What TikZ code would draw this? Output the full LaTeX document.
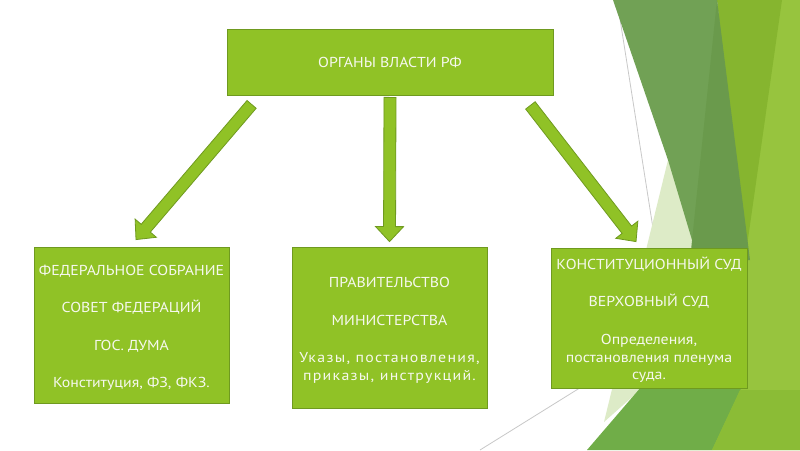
\documentclass[tikz,border=0pt]{standalone}
\usepackage{fontspec}
\setmainfont{PT Sans}[FakeStretch=1.1]
\usetikzlibrary{calc}
\definecolor{accent}{HTML}{90C226}
\definecolor{accentdark}{HTML}{6F9A1F}
\definecolor{txt}{HTML}{F6F8EE}
\definecolor{bglight}{HTML}{97C43E}
\definecolor{bgyellow}{HTML}{86B52F}
\definecolor{bgwedge}{HTML}{71A155}
\definecolor{bgwedgedark}{HTML}{6A9A4C}
\definecolor{bgpale}{HTML}{DDEBC7}
\definecolor{bgmid}{HTML}{70AD48}
\definecolor{bgyb}{HTML}{8BBC36}
\definecolor{bgline}{HTML}{C8C8C8}
\newcommand\bararrow[2]{%
  \path let \p1=(#1), \p2=(#2), \n1={atan2(\y2-\y1,\x2-\x1)}, \n2={veclen(\x2-\x1,\y2-\y1)} in \pgfextra{\xdef\barang{\n1}\xdef\barlen{\n2}};
  \begin{scope}[shift={(#1)}, rotate=\barang, x=1pt, y=1pt]
    \draw[blockarrowstyle] (0,-4.5) -- ({\barlen-11.25},-4.5) -- ({\barlen-11.25},-10.5) -- (\barlen,0) -- ({\barlen-11.25},10.5) -- ({\barlen-11.25},4.5) -- (0,4.5) -- cycle;
  \end{scope}}
\newcommand\wide[1]{{\addfontfeatures{LetterSpace=9}#1}}
\newcommand\topstrut{\rule{0pt}{12pt}}
\begin{document}
\begin{tikzpicture}[x=0.75pt,y=-0.75pt,
  box/.style={draw=accentdark, line width=0.6pt, fill=accent, text=txt, align=center, inner sep=0pt, font=\fontsize{10.8}{13.2}\selectfont},
  blockarrowstyle/.style={draw=accentdark, line width=0.6pt, fill=accent, line join=miter}]
\useasboundingbox (0,0) rectangle (800,450);
\begin{scope}
\clip (0,0) rectangle (800,450);
\fill[white] (0,0) rectangle (800,450);
\draw[bgline, line width=0.6pt] (617,0) -- (688,450);
\draw[bgline, line width=0.6pt] (480,450) -- (800,251);
\fill[bglight] (745,0) -- (800,0) -- (800,450) -- (660,450) -- cycle;
\fill[bgyellow] (717,0) -- (782,0) -- (745,260) -- cycle;
\fill[bgpale] (668,160) -- (698,250) -- (640,390) -- (604,422) -- cycle;
\fill[bgwedge] (613,0) -- (717,0) -- (748,260) -- (730,380) -- (695,250) -- (668,160) -- cycle;
\fill[bgwedgedark] (717,0) -- (750,260) -- (690,260) -- cycle;
\fill[bgmid] (587,450) -- (712,450) -- (745,380) -- (690,330) -- cycle;
\fill[bgyb] (712,450) -- (800,450) -- (800,390) -- (740,390) -- cycle;
\end{scope}
\node[box, minimum width=244.5pt, minimum height=49.5pt] (top) at (390,62) {ОРГАНЫ ВЛАСТИ РФ};
\node[box, minimum width=146.25pt, minimum height=117pt] (b1) at (131.5,325) {\topstrut ФЕДЕРАЛЬНОЕ СОБРАНИЕ\\[15pt]СОВЕТ ФЕДЕРАЦИЙ\\[15pt]ГОС. ДУМА\\[15pt]Конституция, ФЗ, ФКЗ.};
\node[box, minimum width=146.25pt, minimum height=120.75pt] (b2) at (389.5,327.5) {\topstrut ПРАВИТЕЛЬСТВО\\[15pt]МИНИСТЕРСТВА\\[15pt]\wide{Указы, постановления,}\\\wide{приказы, инструкций.}};
\node[box, minimum width=147pt, minimum height=105pt] (b3) at (649,318) {\topstrut КОНСТИТУЦИОННЫЙ СУД\\[15pt]ВЕРХОВНЫЙ СУД\\[15pt]Определения,\\постановления пленума\\суда.};
\coordinate (la-s) at ($(top.south west)+(25,9)$);
\coordinate (la-e) at ($(b1.north)+(4.5,-7)$);
\coordinate (ma-s) at ($(top.south)+(0,2)$);
\coordinate (ma-e) at ($(b2.north)+(0,-5)$);
\coordinate (ra-s) at ($(top.south east)+(-23,10)$);
\coordinate (ra-e) at ($(b3.north)+(-13,-6)$);
\bararrow{la-s}{la-e}
\bararrow{ma-s}{ma-e}
\bararrow{ra-s}{ra-e}
\end{tikzpicture}
\end{document}
